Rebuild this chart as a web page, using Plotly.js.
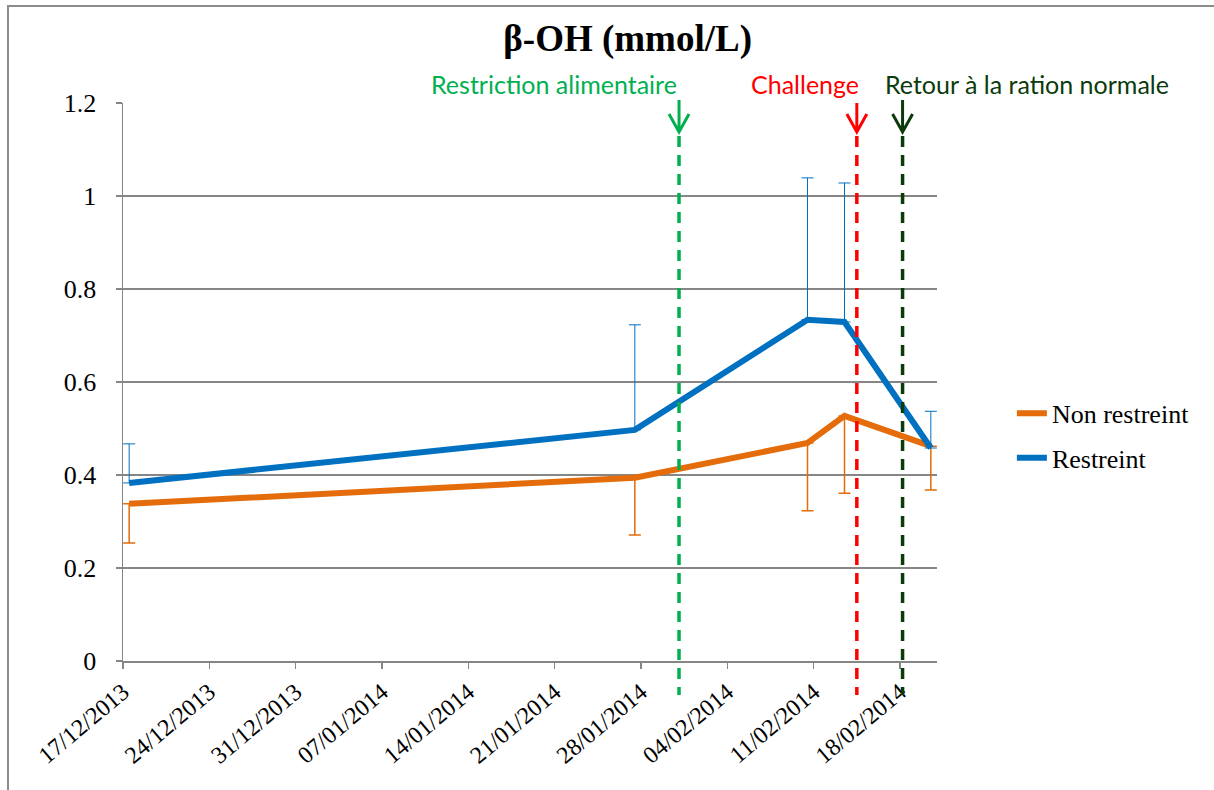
<!DOCTYPE html>
<html>
<head>
<meta charset="utf-8">
<script src="https://cdn.plot.ly/plotly-3.0.1.min.js"></script>
<style>
html, body { margin: 0; padding: 0; background: #fff; }
#chart { width: 1214px; height: 790px; }
</style>
</head>
<body>
<div id="chart"></div>
<script>
// ---- Data ----
const sampleDates = ['2013-12-17', '2014-01-27', '2014-02-10', '2014-02-13', '2014-02-20'];
const nonRestreint = [0.338, 0.394, 0.469, 0.527, 0.462];
const nonRestreintErrMinus = [0.084, 0.123, 0.146, 0.166, 0.094];
const restreint = [0.383, 0.497, 0.734, 0.729, 0.458];
const restreintErrPlus = [0.084, 0.226, 0.305, 0.299, 0.079];

const tickDates = ['2013-12-17', '2013-12-24', '2013-12-31', '2014-01-07', '2014-01-14',
                   '2014-01-21', '2014-01-28', '2014-02-04', '2014-02-11', '2014-02-18'];
const tickLabels = ['17/12/2013', '24/12/2013', '31/12/2013', '07/01/2014', '14/01/2014',
                    '21/01/2014', '28/01/2014', '04/02/2014', '11/02/2014', '18/02/2014'];

const eventDates = ['2014-01-31 02:00', '2014-02-14 12:00', '2014-02-18 05:00'];
const eventLabels = ['Restriction alimentaire', 'Challenge', 'Retour à la ration normale'];
const eventColors = ['#00B050', '#FF0000', '#0B3B0B'];

// Excel date axis places points at the middle of each day
const centred = sampleDates.map(d => d + ' 12:00');

const orange = '#E46C0A';
const blue = '#0070C0';

const traces = [
  {
    x: centred, y: nonRestreint, name: 'Non restreint', type: 'scatter', mode: 'lines',
    line: { color: orange, width: 6 },
    error_y: { type: 'data', symmetric: false, array: nonRestreint.map(() => 0),
               arrayminus: nonRestreintErrMinus, color: orange, thickness: 1.5, width: 6 },
    legend: 'legend', hoverinfo: 'skip'
  },
  {
    x: centred, y: restreint, name: 'Restreint', type: 'scatter', mode: 'lines',
    line: { color: blue, width: 6 },
    error_y: { type: 'data', symmetric: false, array: restreintErrPlus,
               arrayminus: restreint.map(() => 0), color: blue, thickness: 1, width: 6 },
    legend: 'legend2', hoverinfo: 'skip'
  }
];

const shapes = [];
const annotations = [];
const labelAnchor = ['right', 'right', 'left'];
const labelShift = [0, 4, -20];
eventDates.forEach((d, i) => {
  const c = eventColors[i];
  const top = i === 1 ? 0 : 3;
  shapes.push({
    type: 'path', xref: 'x', yref: 'paper', xsizemode: 'pixel', ysizemode: 'pixel',
    xanchor: d, yanchor: 1, layer: 'above',
    path: `M0,${top} L0,-29 M-10,-11 L0,-29 L10,-11`,
    line: { color: c, width: 3 }
  });
  shapes.push({
    type: 'line', xref: 'x', yref: 'paper', xsizemode: 'pixel', ysizemode: 'pixel',
    xanchor: d, yanchor: 1, x0: 0, x1: 0, y0: -33, y1: -592, layer: 'above',
    line: { color: c, width: 3.5, dash: '11px,8px' }
  });
  annotations.push({
    text: eventLabels[i], xref: 'x', yref: 'paper', x: d, y: 1, yshift: 19,
    xanchor: labelAnchor[i], yanchor: 'middle', xshift: labelShift[i], showarrow: false,
    font: { family: 'Lato, "Open Sans", sans-serif', size: 25, color: c }
  });
});

// chart-area frame (Excel chart border)
shapes.push({
  type: 'path', xref: 'paper', yref: 'paper', layer: 'below',
  path: 'M-0.1413,-0.3 L-0.1413,1.1738 L1.5,1.1738',
  line: { color: '#8c8c8c', width: 2 }
});

const serif = '"Liberation Serif", "Times New Roman", serif';

const layout = {
  width: 1214, height: 790,
  margin: { l: 123, r: 277, t: 103, b: 129 },
  paper_bgcolor: '#ffffff', plot_bgcolor: '#ffffff',
  font: { family: serif, size: 24, color: '#000' },
  title: {
    text: '<b>β-OH (mmol/L)</b>', xref: 'paper', x: 0.62, xanchor: 'center',
    yref: 'container', y: 0.952, yanchor: 'middle',
    font: { family: serif, size: 37, color: '#000' }
  },
  xaxis: {
    type: 'date', range: ['2013-12-17', '2014-02-21'],
    tickmode: 'array', tickvals: tickDates, ticktext: tickLabels, tickangle: -40,
    ticks: 'outside', ticklen: 6, tickcolor: '#868686', tickwidth: 1.5,
    showline: true, linecolor: '#868686', linewidth: 1.5,
    showgrid: false, zeroline: false,
    tickfont: { family: serif, size: 24, color: '#000' }
  },
  yaxis: {
    range: [0, 1.2], tickvals: [0, 0.2, 0.4, 0.6, 0.8, 1, 1.2],
    ticktext: ['0', '0.2', '0.4', '0.6', '0.8', '1', '1.2'],
    ticks: 'outside', ticklen: 6, tickcolor: '#868686', tickwidth: 1.5,
    showline: true, linecolor: '#868686', linewidth: 1.5,
    showgrid: true, gridcolor: '#868686', gridwidth: 1.5, zeroline: false,
    ticklabelstandoff: 14,
    tickfont: { family: serif, size: 26, color: '#000' }
  },
  legend: {
    x: 1.092, xanchor: 'left', y: 0.444, yanchor: 'middle',
    font: { family: serif, size: 26, color: '#000' }, bgcolor: 'rgba(0,0,0,0)'
  },
  legend2: {
    x: 1.092, xanchor: 'left', y: 0.364, yanchor: 'middle',
    font: { family: serif, size: 26, color: '#000' }, bgcolor: 'rgba(0,0,0,0)'
  },
  shapes: shapes,
  annotations: annotations,
  showlegend: true
};

Plotly.newPlot('chart', traces, layout, { displayModeBar: false, staticPlot: true });
</script>
</body>
</html>
